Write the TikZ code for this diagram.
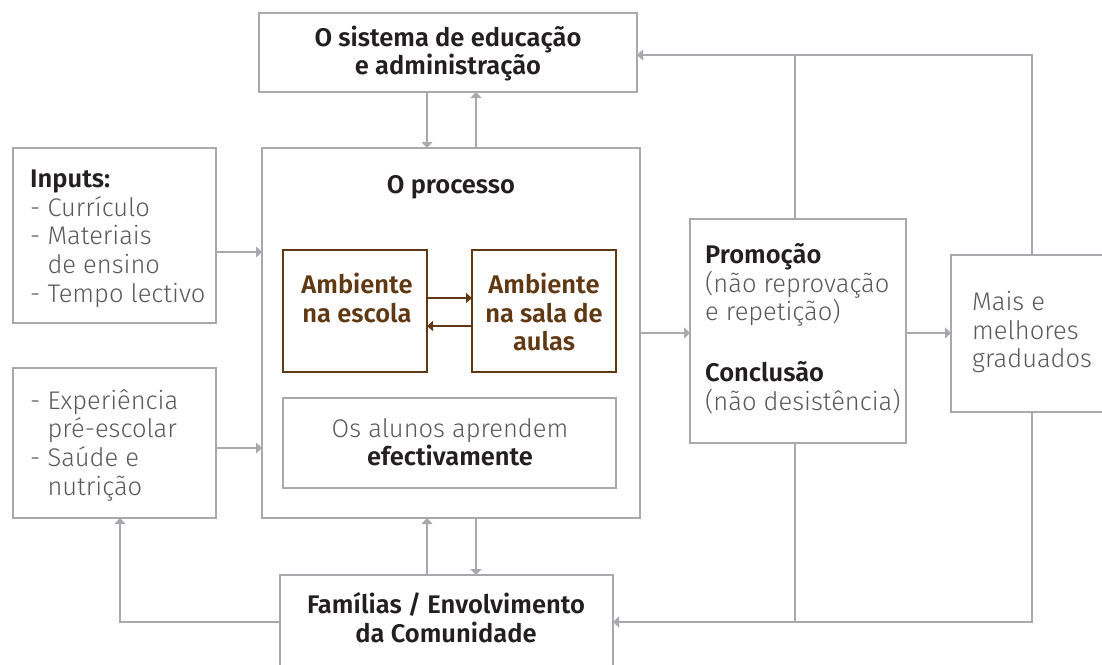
\documentclass[tikz,border=0pt]{standalone}
\usepackage{fontspec}
\setmainfont{Fira Sans}
\newfontfamily\lightfont{Fira Sans Light}
\newfontfamily\boldfont{Fira Sans SemiBold}
\usetikzlibrary{arrows.meta}
\definecolor{lineg}{HTML}{A7A9AC}
\definecolor{txtg}{HTML}{58595B}
\definecolor{txtd}{HTML}{231F20}
\definecolor{brn}{HTML}{603913}
\tikzset{
  box/.style={draw=lineg, line width=1.3pt, inner sep=0pt, outer sep=0pt, rectangle},
  bbox/.style={draw=brn, line width=1.3pt, inner sep=0pt, outer sep=0pt, rectangle},
  conn/.style={draw=lineg, line width=1.3pt},
  arr/.style={conn, -{Triangle[width=11pt,length=6pt]}},
  barr/.style={draw=brn, line width=1.3pt, -{Triangle[width=10pt,length=6pt]}},
  lt/.style={font=\lightfont\fontsize{25.5}{28.7}\selectfont, text=txtg, inner sep=0pt},
  bt/.style={font=\boldfont\fontsize{25.5}{28.7}\selectfont, text=txtd, inner sep=0pt},
  brt/.style={font=\boldfont\fontsize{25.5}{28.7}\selectfont, text=brn, inner sep=0pt},
  L/.style={anchor=base west},
  C/.style={anchor=base},
}
\begin{document}
\begin{tikzpicture}[x=1pt,y=-1pt]
\useasboundingbox (0,0) rectangle (1102,664);
% boxes
\node[box, minimum width=378pt, minimum height=79pt] (sys) at (448,52.5) {};
\node[box, minimum width=378pt, minimum height=370pt] (proc) at (451,333) {};
\node[box, minimum width=203pt, minimum height=175pt] (inp) at (114.5,235.5) {};
\node[box, minimum width=203pt, minimum height=150pt] (exp) at (114.5,443) {};
\node[bbox, minimum width=144pt, minimum height=122pt] (esc) at (355,311) {};
\node[bbox, minimum width=144pt, minimum height=122pt] (sala) at (544,311) {};
\node[box, minimum width=333pt, minimum height=90pt] (alu) at (449.5,443) {};
\node[box, minimum width=216pt, minimum height=224pt] (promo) at (798,331) {};
\node[box, minimum width=170pt, minimum height=157pt] (mais) at (1036,333.5) {};
\node[box, minimum width=333pt, minimum height=110pt] (fam) at (446.5,630) {};
% texts
\node[bt, C] (tsys1) at (448,46) {O sistema de educação};
\node[bt, C] (tsys2) at (448,74) {e administração};
\node[bt, C] (tproc) at (451,193) {O processo};
\node[brt, C] (tesc1) at (357,293) {Ambiente};
\node[brt, C] (tesc2) at (357,322) {na escola};
\node[brt, C] (tsala1) at (544,293) {Ambiente};
\node[brt, C] (tsala2) at (544,322) {na sala de};
\node[brt, C] (tsala3) at (544,350) {aulas};
\node[lt, C] (talu1) at (450,437) {Os alunos aprendem};
\node[bt, C] (talu2) at (450,465) {efectivamente};
\node[bt, L] (tinp1) at (30,187) {Inputs:};
\node[lt, L] (tinp2) at (30,216) {- Currículo};
\node[lt, L] (tinp3) at (30,244) {- Materiais};
\node[lt, L] (tinp4) at (30,273) {\phantom{- }de ensino};
\node[lt, L] (tinp5) at (30,302) {- Tempo lectivo};
\node[lt, L] (texp1) at (30,409) {- Experiência};
\node[lt, L] (texp2) at (30,437) {\phantom{- }pré-escolar};
\node[lt, L] (texp3) at (30,466) {- Saúde e};
\node[lt, L] (texp4) at (30,495) {\phantom{- }nutrição};
\node[bt, L] (tpro1) at (705,263) {Promoção};
\node[lt, L] (tpro2) at (705,292) {(não reprovação};
\node[lt, L] (tpro3) at (705,320) {e repetição)};
\node[bt, L] (tcon1) at (705,381) {Conclusão};
\node[lt, L] (tcon2) at (705,410) {(não desistência)};
\node[lt, L] (tmais1) at (972,310) {Mais e};
\node[lt, L] (tmais2) at (972,339) {melhores};
\node[lt, L] (tmais3) at (972,367) {graduados};
\node[bt, C] (tfam1) at (446,613) {Famílias / Envolvimento};
\node[bt, C] (tfam2) at (446,642) {da Comunidade};
% coordinates
\coordinate (ptop) at (795,55);
\coordinate (mtop) at (1032,55);
\coordinate (pbot) at (795,622);
\coordinate (mbot) at (1032,622);
\coordinate (lcorner) at (120,622);
% connectors
\draw[arr] (sys.south -| 427,0) -- (proc.north -| 427,0);
\draw[arr] (proc.north -| 476,0) -- (sys.south -| 476,0);
\draw[arr] (inp.east |- 0,252) -- (proc.west |- 0,252);
\draw[arr] (exp.east |- 0,448) -- (proc.west |- 0,448);
\draw[barr] (esc.east |- 0,298) -- (sala.west |- 0,298);
\draw[barr] (sala.west |- 0,326) -- (esc.east |- 0,326);
\draw[arr] (proc.east |- 0,333) -- (promo.west |- 0,333);
\draw[arr] (promo.east |- 0,333) -- (mais.west |- 0,333);
\draw[conn] (promo.north -| ptop) -- (ptop);
\draw[arr] (mais.north -| mtop) -- (mtop) -- (sys.east |- mtop);
\draw[conn] (promo.south -| pbot) -- (pbot);
\draw[arr] (mais.south -| mbot) -- (mbot) -- (fam.east |- mbot);
\draw[arr] (fam.north -| 427,0) -- (proc.south -| 427,0);
\draw[arr] (proc.south -| 476,0) -- (fam.north -| 476,0);
\draw[arr] (fam.west |- lcorner) -- (lcorner) -- (exp.south -| lcorner);
\end{tikzpicture}
\end{document}
